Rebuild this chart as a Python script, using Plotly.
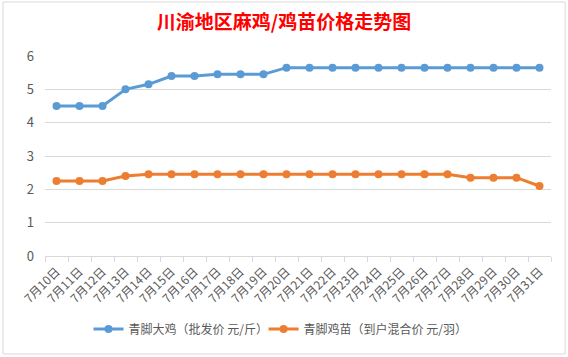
import plotly.graph_objects as go

dates = [f"7月{d}日" for d in range(10, 32)]
adult = [4.5, 4.5, 4.5, 5.0, 5.15, 5.4, 5.4, 5.45, 5.45, 5.45, 5.65,
         5.65, 5.65, 5.65, 5.65, 5.65, 5.65, 5.65, 5.65, 5.65, 5.65, 5.65]
chick = [2.25, 2.25, 2.25, 2.4, 2.45, 2.45, 2.45, 2.45, 2.45, 2.45, 2.45,
         2.45, 2.45, 2.45, 2.45, 2.45, 2.45, 2.45, 2.35, 2.35, 2.35, 2.1]
name_adult = "青脚大鸡（批发价 元/斤）"
name_chick = "青脚鸡苗（到户混合价 元/羽）"
title = "川渝地区麻鸡/鸡苗价格走势图"

font = "Noto Sans CJK SC"
fig = go.Figure()
fig.add_trace(go.Scatter(x=dates, y=adult, name=name_adult, mode="lines+markers",
                         line=dict(color="#5B9BD5", width=3),
                         marker=dict(size=8, color="#5B9BD5"), legend="legend"))
fig.add_trace(go.Scatter(x=dates, y=chick, name=name_chick, mode="lines+markers",
                         line=dict(color="#ED7D31", width=3),
                         marker=dict(size=8, color="#ED7D31"), legend="legend2"))

leg = dict(orientation="h", xanchor="left", y=-0.365, yanchor="middle",
           font=dict(size=12, color="#595959"), itemwidth=30,
           bgcolor="rgba(0,0,0,0)")

fig.update_layout(
    width=568, height=357,
    paper_bgcolor="white", plot_bgcolor="white",
    margin=dict(l=45, r=17, t=56, b=101, autoexpand=False),
    title=dict(text="<b>" + title + "</b>", x=0.5, xanchor="center", y=0.938, yanchor="middle",
               font=dict(family=font, size=19, color="#FF0000")),
    font=dict(family=font, color="#595959", size=12),
    showlegend=True,
    legend=dict(leg, x=0.086),
    legend2=dict(leg, x=0.432),
    xaxis=dict(type="category", range=[-0.5, len(dates) - 0.5], tickangle=-45,
               showgrid=False, showline=True, automargin=False,
               linecolor="#D9D9D9", linewidth=1, ticks="outside", ticklen=5,
               tickcolor="#D9D9D9", tickson="boundaries", ticklabelstandoff=3,
               tickfont=dict(size=12, color="#595959")),
    yaxis=dict(range=[0, 6], dtick=1, showgrid=True, gridcolor="#D9D9D9",
               automargin=False, ticklabelstandoff=10,
               zeroline=False, showline=False, ticks="",
               tickfont=dict(size=13, color="#595959")),
    shapes=[dict(type="rect", xref="paper", yref="paper", x0=-0.083, x1=1.028,
                 y0=-0.49, y1=1.27, line=dict(color="#D9D9D9", width=1))],
)
fig.write_html("out.html", config={"displayModeBar": False},
               post_script="document.body.style.margin='0';")
